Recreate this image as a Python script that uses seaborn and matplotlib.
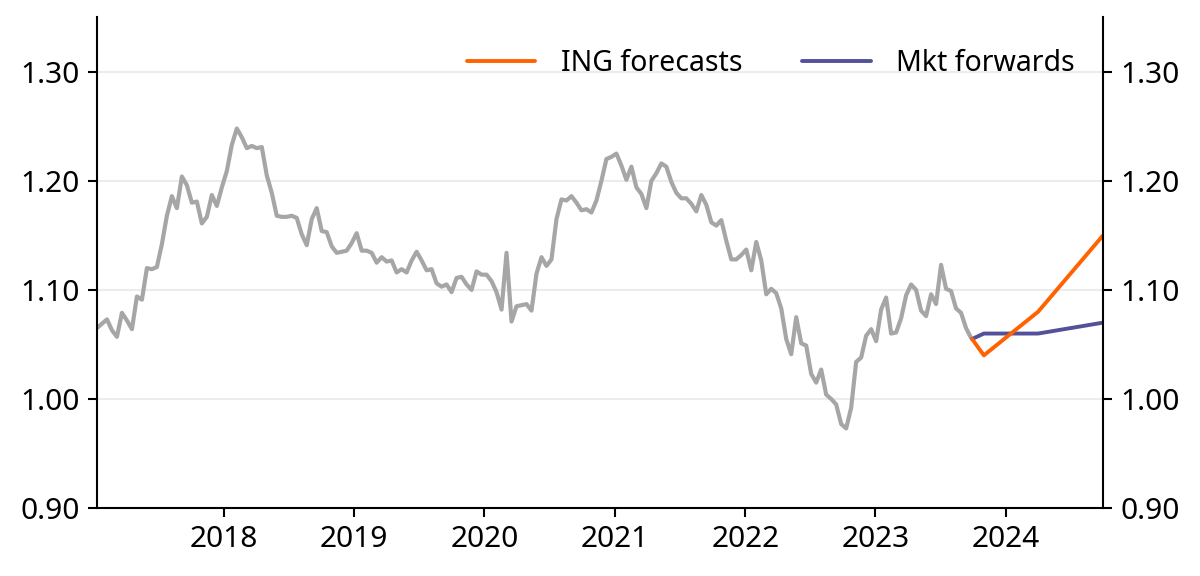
import matplotlib
matplotlib.use("Agg")
import matplotlib.pyplot as plt
import matplotlib.dates as mdates
import numpy as np
import pandas as pd
import seaborn as sns

sns.set_style("white")
plt.rcParams["font.family"] = ["Noto Sans", "DejaVu Sans"]

# EUR/USD, fortnightly readings
hist_start = "2017-01-10"
hist_values = [
    1.065, 1.069, 1.073, 1.063, 1.057, 1.079, 1.072, 1.064, 1.094, 1.091,
    1.120, 1.119, 1.121, 1.142, 1.168, 1.186, 1.175, 1.204, 1.196, 1.180,
    1.181, 1.161, 1.167, 1.187, 1.177, 1.194, 1.209, 1.233, 1.248, 1.240,
    1.230, 1.232, 1.230, 1.231, 1.205, 1.189, 1.168, 1.167, 1.167, 1.168,
    1.166, 1.151, 1.141, 1.165, 1.175, 1.154, 1.153, 1.140, 1.134, 1.135,
    1.136, 1.143, 1.152, 1.136, 1.136, 1.134, 1.125, 1.130, 1.126, 1.127,
    1.116, 1.119, 1.116, 1.127, 1.135, 1.127, 1.118, 1.119, 1.106, 1.103,
    1.105, 1.098, 1.111, 1.112, 1.105, 1.100, 1.117, 1.114, 1.114, 1.108,
    1.098, 1.082, 1.134, 1.071, 1.085, 1.086, 1.087, 1.081, 1.115, 1.130,
    1.122, 1.128, 1.165, 1.183, 1.182, 1.186, 1.180, 1.173, 1.174, 1.171,
    1.182, 1.200, 1.220, 1.222, 1.225, 1.214, 1.201, 1.213, 1.194, 1.188,
    1.175, 1.200, 1.207, 1.216, 1.213, 1.199, 1.189, 1.184, 1.184, 1.179,
    1.172, 1.187, 1.178, 1.162, 1.159, 1.164, 1.145, 1.128, 1.128, 1.132,
    1.137, 1.118, 1.144, 1.127, 1.096, 1.101, 1.097, 1.083, 1.055, 1.041,
    1.075, 1.051, 1.049, 1.023, 1.015, 1.027, 1.004, 1.000, 0.995, 0.977,
    0.973, 0.992, 1.034, 1.038, 1.058, 1.064, 1.053, 1.082, 1.093, 1.060,
    1.061, 1.074, 1.095, 1.105, 1.100, 1.081, 1.076, 1.096, 1.087, 1.123,
    1.101, 1.099, 1.083, 1.079, 1.065, 1.056,
]

fc_dates = ["2023-09-29", "2023-11-01", "2024-04-01", "2024-09-30"]
ing_forecasts = [1.055, 1.04, 1.08, 1.15]
mkt_forwards = [1.055, 1.06, 1.06, 1.07]

year_ticks = ["2018", "2019", "2020", "2021", "2022", "2023", "2024"]
y_ticks = [0.90, 1.00, 1.10, 1.20, 1.30]

hist = pd.DataFrame({
    "date": pd.date_range(hist_start, periods=len(hist_values), freq="14D"),
    "value": hist_values,
})
fc = pd.DataFrame({
    "date": pd.to_datetime(fc_dates * 2),
    "value": ing_forecasts + mkt_forwards,
    "series": ["ING forecasts"] * 4 + ["Mkt forwards"] * 4,
})

fig = plt.figure(figsize=(12, 5.76), dpi=100)
ax = fig.add_axes([0.0808, 0.118, 0.8384, 0.852])

for y in y_ticks[1:]:
    ax.axhline(y, color="#ececec", lw=1.5, zorder=0)

sns.lineplot(data=hist, x="date", y="value", color="#a6a6a6", lw=3.0, ax=ax)
sns.lineplot(
    data=fc, x="date", y="value", hue="series",
    hue_order=["Mkt forwards", "ING forecasts"],
    palette={"ING forecasts": "#ff6200", "Mkt forwards": "#525199"},
    lw=2.8, ax=ax,
)

ax.set_xlim(pd.Timestamp("2017-01-10"), pd.Timestamp("2024-09-30"))
ax.set_ylim(0.90, 1.35)
ax.set_yticks(y_ticks)
ax.yaxis.set_major_formatter(matplotlib.ticker.FormatStrFormatter("%.2f"))
ax.set_xticks(pd.to_datetime([y + "-01-01" for y in year_ticks]))
ax.xaxis.set_major_formatter(mdates.DateFormatter("%Y"))
ax.set_xlabel("")
ax.set_ylabel("")

for side in ["left", "right", "bottom"]:
    ax.spines[side].set_color("black")
    ax.spines[side].set_linewidth(1.5)
ax.spines["top"].set_visible(False)

ax.tick_params(axis="y", left=True, right=True, labelleft=True, labelright=True,
               length=6.5, width=1.5, direction="out", pad=6, labelsize=21.5,
               colors="black")
ax.tick_params(axis="x", bottom=True, length=6.5, width=1.5, direction="out",
               pad=6, labelsize=21.5, colors="black")

handles, labels = ax.get_legend_handles_labels()
order = [labels.index("ING forecasts"), labels.index("Mkt forwards")]
leg = ax.legend([handles[i] for i in order], [labels[i] for i in order],
                loc="center right", bbox_to_anchor=(0.972, 0.905), ncol=2,
                frameon=False, fontsize=20.5, handlelength=2.4,
                handletextpad=0.9, columnspacing=2.1, borderpad=0,
                borderaxespad=0)
for t in leg.get_texts():
    t.set_color("black")

fig.savefig("out.png", dpi=100)
